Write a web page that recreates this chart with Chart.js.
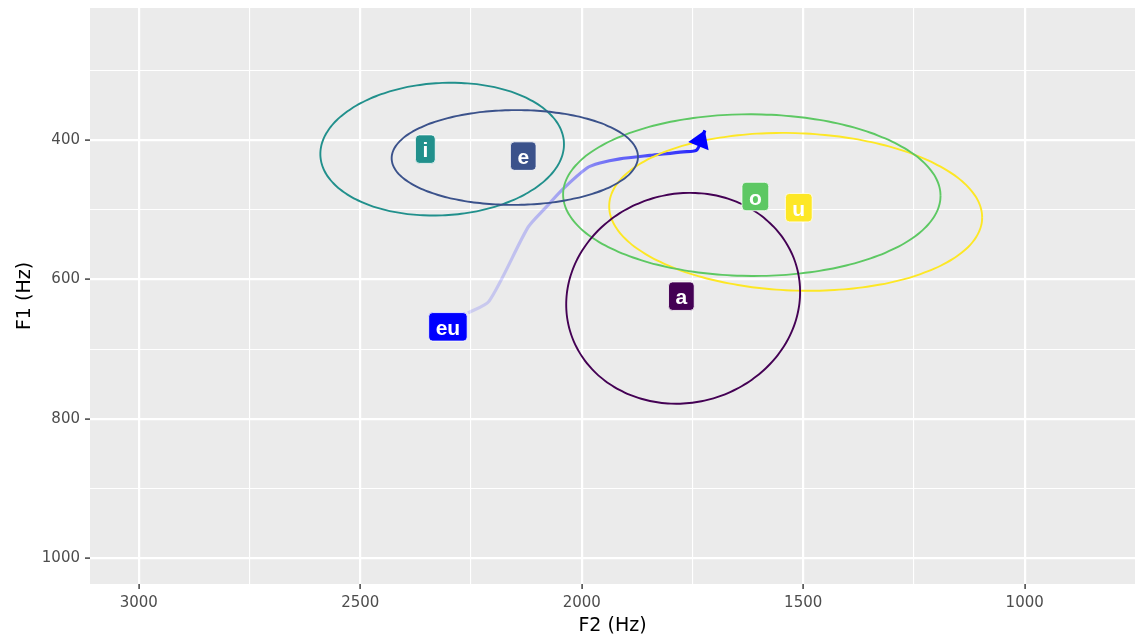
<!DOCTYPE html>
<html><head><meta charset="utf-8">
<script src="https://cdn.jsdelivr.net/npm/chart.js@4"></script>
<style>html,body{margin:0;padding:0;background:#fff;}#wrap{width:1135px;height:637px;}</style>
</head><body><div id="wrap"><canvas id="c" width="1135" height="637"></canvas></div>
<script>
// ---- data ----
const vowels = ['a', 'e', 'i', 'o', 'u'];
// ellipse centres (Hz)
const ellipseCenterF2 = [1771, 2151, 2315, 1616, 1517];
const ellipseCenterF1 = [627, 425, 413, 479, 503];
// first conjugate semi-axis (Hz)
const ellipseAxis1F2 = [-264, -278, -275, -426, -421];
const ellipseAxis1F1 = [-9, -1, -7, 1, 8];
// second conjugate semi-axis (Hz)
const ellipseAxis2F2 = [0, 0, 0, 0, 0];
const ellipseAxis2F1 = [-151, -68, -95, -116, -113];
// vowel label positions (Hz)
const labelF2 = [1775, 2132, 2353, 1608, 1510];
const labelF1 = [624, 423, 413, 481, 497];
// diphthong trajectory
const trajName = 'eu';
const trajLabelF2 = 2302;
const trajLabelF1 = 668;
const trajF2 = [2257, 2209, 2121, 2083, 2042, 1988, 1959, 1914, 1846, 1771, 1740, 1722];
const trajF1 = [648, 631, 525, 498, 470, 440, 433, 427, 422, 417, 414, 386];
// axes
const xMajorTicks = [1000, 1500, 2000, 2500, 3000];
const xMinorTicks = [1250, 1750, 2250, 2750];
const yMajorTicks = [400, 600, 800, 1000];
const yMinorTicks = [300, 500, 700, 900];
const xLimits = [751, 3110];
const yLimits = [210.5, 1037];

// ---- styles ----
const vowelColors = ['#440154', '#3B528B', '#21908C', '#5DC863', '#FDE725'];
const trajRGB = '0,0,255';

const ellipseDatasets = vowels.map((v, k) => {
  const pts = [];
  const N = 120;
  for (let s = 0; s <= N; s++) {
    const t = 2 * Math.PI * s / N;
    pts.push({
      x: ellipseCenterF2[k] + ellipseAxis1F2[k] * Math.cos(t) + ellipseAxis2F2[k] * Math.sin(t),
      y: ellipseCenterF1[k] + ellipseAxis1F1[k] * Math.cos(t) + ellipseAxis2F1[k] * Math.sin(t)
    });
  }
  return {
    label: v, data: pts, showLine: true, borderColor: vowelColors[k],
    borderWidth: 1.9, pointRadius: 0, tension: 0.3, fill: false
  };
});

const trajPts = trajF2.map((x, i) => ({ x, y: trajF1[i] }));
const nT = trajPts.length;
const alphaAt = f => 0.13 + 0.87 * Math.pow(f, 1.5);

function trajGradient(c) {
  const chart = c.chart;
  const xs = chart.scales.x, ys = chart.scales.y;
  if (!chart.chartArea || !xs || !ys) return 'rgb(0,0,255)';
  const px = trajF2.map(v => xs.getPixelForValue(v));
  const py = trajF1.map(v => ys.getPixelForValue(v));
  const x0 = px[0], y0 = py[0], x1 = px[nT - 1], y1 = py[nT - 1];
  const dx = x1 - x0, dy = y1 - y0, d2 = dx * dx + dy * dy;
  const g = chart.ctx.createLinearGradient(x0, y0, x1, y1);
  let last = -1;
  for (let i = 0; i < nT; i++) {
    let f = ((px[i] - x0) * dx + (py[i] - y0) * dy) / d2;
    f = Math.min(1, Math.max(0, f));
    if (f < last) continue;
    last = f;
    g.addColorStop(f, `rgba(${trajRGB},${alphaAt(i / (nT - 1)).toFixed(3)})`);
  }
  return g;
}

const trajDataset = {
  label: trajName, data: trajPts, showLine: true, borderWidth: 3.2, pointRadius: 0,
  borderColor: trajGradient, tension: 0.25, borderCapStyle: 'butt', borderJoinStyle: 'round'
};

const isIn = (arr, v) => arr.some(a => Math.abs(a - v) < 1e-6);

const panelBg = {
  id: 'panelBg',
  beforeDraw(chart) {
    const { ctx, chartArea: a } = chart;
    ctx.save();
    ctx.fillStyle = '#EBEBEB';
    ctx.fillRect(a.left, a.top, a.right - a.left, a.bottom - a.top);
    ctx.restore();
  }
};

function roundRect(ctx, x, y, w, h, r) {
  ctx.beginPath();
  ctx.moveTo(x + r, y);
  ctx.lineTo(x + w - r, y);
  ctx.arcTo(x + w, y, x + w, y + r, r);
  ctx.lineTo(x + w, y + h - r);
  ctx.arcTo(x + w, y + h, x + w - r, y + h, r);
  ctx.lineTo(x + r, y + h);
  ctx.arcTo(x, y + h, x, y + h - r, r);
  ctx.lineTo(x, y + r);
  ctx.arcTo(x, y, x + r, y, r);
  ctx.closePath();
}

const overlay = {
  id: 'overlay',
  afterDatasetsDraw(chart) {
    const { ctx, scales: { x, y } } = chart;
    ctx.save();
    // arrow head at trajectory end
    const p1 = { x: x.getPixelForValue(trajF2[nT - 1]), y: y.getPixelForValue(trajF1[nT - 1]) };
    const p0 = { x: x.getPixelForValue(trajF2[nT - 2]), y: y.getPixelForValue(trajF1[nT - 2]) };
    const ang = Math.atan2(p1.y - p0.y, p1.x - p0.x);
    const L = 17, W = 11;
    const bx = p1.x - L * Math.cos(ang), by = p1.y - L * Math.sin(ang);
    ctx.fillStyle = 'rgb(0,0,255)';
    ctx.beginPath();
    ctx.moveTo(p1.x, p1.y);
    ctx.lineTo(bx + W * Math.sin(ang), by - W * Math.cos(ang));
    ctx.lineTo(bx - W * Math.sin(ang), by + W * Math.cos(ang));
    ctx.closePath();
    ctx.fill();

    // labels
    const fs = 21;
    ctx.font = `bold ${fs}px "Liberation Sans", Arial, sans-serif`;
    ctx.textAlign = 'center';
    ctx.textBaseline = 'alphabetic';
    const drawLabel = (txt, f2, f1, col) => {
      const cx = x.getPixelForValue(f2), cy = y.getPixelForValue(f1);
      const w = ctx.measureText(txt).width + 14, h = 28.5;
      roundRect(ctx, cx - w / 2, cy - h / 2, w, h, 4);
      ctx.fillStyle = col;
      ctx.fill();
      ctx.lineWidth = 0.8;
      ctx.strokeStyle = '#FFFFFF';
      ctx.stroke();
      ctx.fillStyle = '#FFFFFF';
      ctx.fillText(txt, cx, cy + 8.2);
    };
    vowels.forEach((v, k) => drawLabel(v, labelF2[k], labelF1[k], vowelColors[k]));
    drawLabel(trajName, trajLabelF2, trajLabelF1, 'rgb(0,0,255)');
    ctx.restore();
  }
};

const tickFont = { family: '"DejaVu Sans", sans-serif', size: 15 };
const titleFont = { family: '"DejaVu Sans", sans-serif', size: 19 };

new Chart(document.getElementById('c'), {
  type: 'scatter',
  data: { datasets: [...ellipseDatasets, trajDataset] },
  options: {
    responsive: false, animation: false, devicePixelRatio: 1,
    layout: { autoPadding: false, padding: { top: 8, left: 0, right: 0, bottom: 0 } },
    plugins: { legend: { display: false }, tooltip: { enabled: false } },
    scales: {
      x: {
        type: 'linear', reverse: true, min: xLimits[0], max: xLimits[1],
        afterBuildTicks: s => { s.ticks = [...xMajorTicks, ...xMinorTicks].sort((a, b) => a - b).map(v => ({ value: v })); },
        afterFit: s => { s.height = 53; s.paddingLeft = 0; s.paddingRight = 0; },
        border: { display: false },
        grid: {
          color: '#FFFFFF',
          lineWidth: c => isIn(xMajorTicks, c.tick.value) ? 2.2 : 1.1,
          tickColor: c => isIn(xMajorTicks, c.tick.value) ? '#333333' : 'rgba(0,0,0,0)',
          tickWidth: 1.4, tickLength: 5
        },
        ticks: {
          autoSkip: false, maxRotation: 0, padding: 5, color: '#4D4D4D', font: tickFont,
          callback: v => isIn(xMajorTicks, v) ? String(v) : ''
        },
        title: { display: true, text: 'F2 (Hz)', color: '#000000', font: titleFont, padding: { top: 0, bottom: 0 } }
      },
      y: {
        type: 'linear', reverse: true, min: yLimits[0], max: yLimits[1],
        afterBuildTicks: s => { s.ticks = [...yMajorTicks, ...yMinorTicks].sort((a, b) => a - b).map(v => ({ value: v })); },
        afterFit: s => { s.width = 90; s.paddingTop = 0; s.paddingBottom = 0; },
        border: { display: false },
        grid: {
          color: '#FFFFFF',
          lineWidth: c => isIn(yMajorTicks, c.tick.value) ? 2.2 : 1.1,
          tickColor: c => isIn(yMajorTicks, c.tick.value) ? '#333333' : 'rgba(0,0,0,0)',
          tickWidth: 1.4, tickLength: 5
        },
        ticks: {
          autoSkip: false, padding: 5, color: '#4D4D4D', font: tickFont,
          callback: v => isIn(yMajorTicks, v) ? String(v) : ''
        },
        title: { display: true, text: 'F1 (Hz)', color: '#000000', font: titleFont, padding: { top: 14, bottom: 0 } }
      }
    }
  },
  plugins: [panelBg, overlay]
});
</script>
</body></html>
